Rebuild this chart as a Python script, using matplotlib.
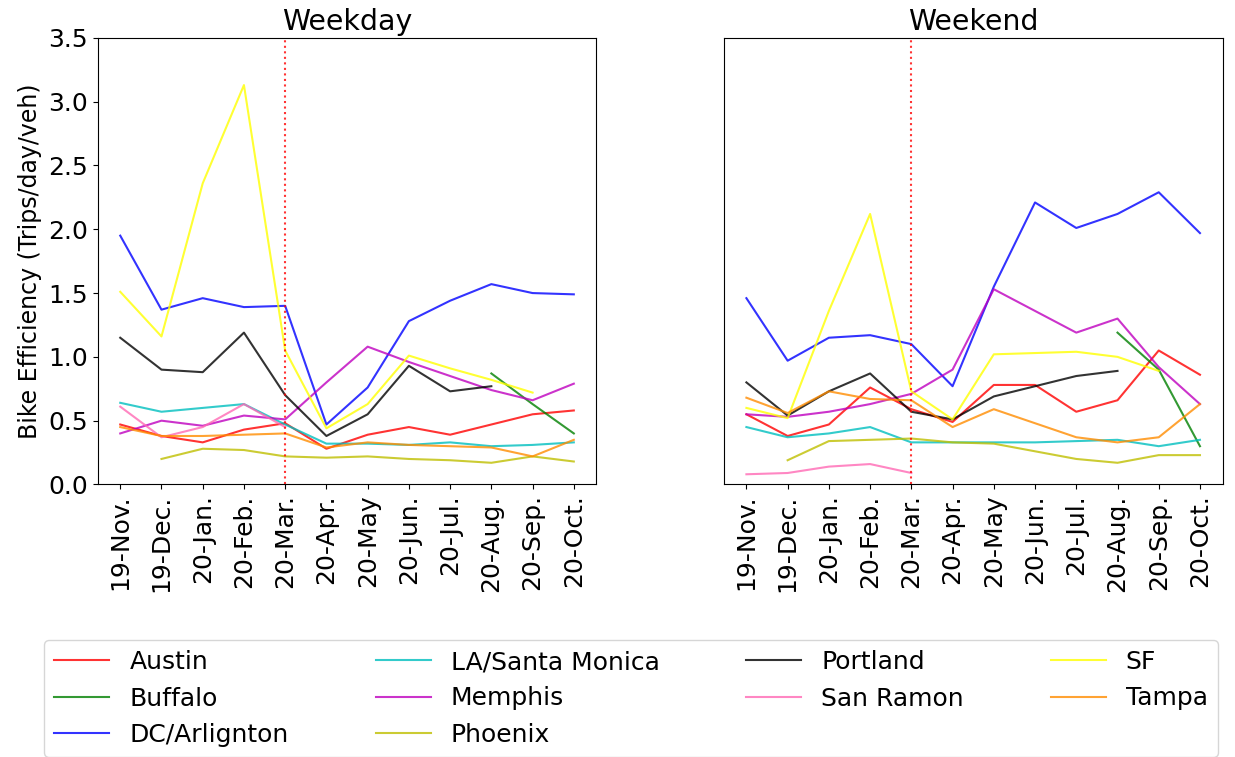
import numpy as np
import matplotlib
matplotlib.use("Agg")
import matplotlib.pyplot as plt

nan = np.nan
months = ["19-Nov.", "19-Dec.", "20-Jan.", "20-Feb.", "20-Mar.", "20-Apr.",
          "20-May", "20-Jun.", "20-Jul.", "20-Aug.", "20-Sep.", "20-Oct."]
cities = ["Austin", "Buffalo", "DC/Arlignton", "LA/Santa Monica", "Memphis",
          "Phoenix", "Portland", "San Ramon", "SF", "Tampa"]
colors = ["red", "green", "blue", "c", "m", "y", "black", "hotpink", "yellow", "darkorange"]

weekday = {
    "Austin": [0.47, 0.38, 0.33, 0.43, 0.48, 0.28, 0.39, 0.45, 0.39, 0.47, 0.55, 0.58],
    "Buffalo": [nan] * 9 + [0.87, 0.63, 0.40],
    "DC/Arlignton": [1.95, 1.37, 1.46, 1.39, 1.40, 0.47, 0.76, 1.28, 1.44, 1.57, 1.50, 1.49],
    "LA/Santa Monica": [0.64, 0.57, 0.60, 0.63, 0.47, 0.32, 0.32, 0.31, 0.33, 0.30, 0.31, 0.33],
    "Memphis": [0.40, 0.50, 0.46, 0.54, 0.51, 0.80, 1.08, 0.96, 0.85, 0.74, 0.66, 0.79],
    "Phoenix": [nan, 0.20, 0.28, 0.27, 0.22, 0.21, 0.22, 0.20, 0.19, 0.17, 0.22, 0.18],
    "Portland": [1.15, 0.90, 0.88, 1.19, 0.70, 0.38, 0.55, 0.93, 0.73, 0.77, nan, nan],
    "San Ramon": [0.61, 0.37, 0.45, 0.63, 0.45] + [nan] * 7,
    "SF": [1.51, 1.16, 2.36, 3.13, 1.05, 0.44, 0.63, 1.01, 0.91, 0.82, 0.72, nan],
    "Tampa": [0.45, 0.38, 0.38, 0.39, 0.40, 0.29, 0.33, 0.31, 0.30, 0.29, 0.22, 0.35],
}
weekend = {
    "Austin": [0.55, 0.38, 0.47, 0.76, 0.59, 0.49, 0.78, 0.78, 0.57, 0.66, 1.05, 0.86],
    "Buffalo": [nan] * 9 + [1.19, 0.90, 0.30],
    "DC/Arlignton": [1.46, 0.97, 1.15, 1.17, 1.10, 0.77, 1.55, 2.21, 2.01, 2.12, 2.29, 1.97],
    "LA/Santa Monica": [0.45, 0.37, 0.40, 0.45, 0.33, 0.33, 0.33, 0.33, 0.34, 0.35, 0.30, 0.35],
    "Memphis": [0.55, 0.53, 0.57, 0.63, 0.71, 0.90, 1.53, 1.36, 1.19, 1.30, 0.92, 0.63],
    "Phoenix": [nan, 0.19, 0.34, 0.35, 0.36, 0.33, 0.32, 0.26, 0.20, 0.17, 0.23, 0.23],
    "Portland": [0.80, 0.54, 0.73, 0.87, 0.57, 0.51, 0.69, 0.77, 0.85, 0.89, nan, nan],
    "San Ramon": [0.08, 0.09, 0.14, 0.16, 0.09] + [nan] * 7,
    "SF": [0.60, 0.52, 1.36, 2.12, 0.73, 0.51, 1.02, 1.03, 1.04, 1.00, 0.89, nan],
    "Tampa": [0.68, 0.56, 0.73, 0.67, 0.66, 0.45, 0.59, 0.48, 0.37, 0.33, 0.37, 0.63],
}

plt.rcParams["font.size"] = 17
fig, axes = plt.subplots(1, 2, figsize=(12.35, 7.57), dpi=100, sharey=True)
x = np.arange(len(months))
for ax, data, title in zip(axes, [weekday, weekend], ["Weekday", "Weekend"]):
    for city, col in zip(cities, colors):
        ax.plot(x, data[city], color=col, alpha=0.8, label=city)
    ax.axvline(4, color="red", linestyle=":", alpha=0.8)
    ax.set_title(title)
    ax.set_xticks(x)
    ax.set_xticklabels(months, rotation=90, fontsize=18)
    ax.tick_params(axis="y", labelsize=18)
    ax.set_ylim(0, 3.5)
axes[0].set_ylabel("Bike Efficiency (Trips/day/veh)")
axes[1].tick_params(axis="y", left=False)
handles, labels = axes[0].get_legend_handles_labels()
fig.subplots_adjust(left=0.079, right=0.99, top=0.95, bottom=0.36, wspace=0.255)
fig.legend(handles, labels, ncol=4, loc="lower left",
           bbox_to_anchor=(0.036, 0.0, 0.95, 0.165), mode="expand",
           fontsize=18, borderaxespad=0.0, handlelength=2.2)
fig.savefig("out.png")
